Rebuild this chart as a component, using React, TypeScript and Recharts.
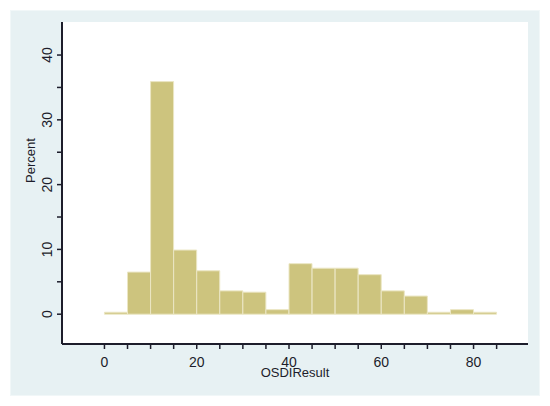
import { BarChart, Bar, XAxis, YAxis, CartesianGrid } from "recharts";

// histogram bins of width 5, starting at 0
const binStarts = [0, 5, 10, 15, 20, 25, 30, 35, 40, 45, 50, 55, 60, 65, 70, 75, 80];
const percents = [0.3, 6.5, 35.9, 9.9, 6.7, 3.6, 3.4, 0.7, 7.8, 7.1, 7.1, 6.1, 3.6, 2.8, 0.3, 0.7, 0.3];
const xTicks = [0, 5, 10, 15, 20, 25, 30, 35, 40, 45, 50, 55, 60, 65, 70, 75, 80, 85];
const xLabels = [0, 20, 40, 60, 80];
const yTicks = [0, 5, 10, 15, 20, 25, 30, 35, 40];
const yLabels = [0, 10, 20, 30, 40];

const data = binStarts.map((b, i) => ({ mid: b + 2.5, pct: percents[i] }));

const ink = "#1d1d2b";
const font = "Arial, 'Liberation Sans', sans-serif";

function XTick({ x, payload }: any) {
  const v = payload.value;
  return (
    <g>
      <line x1={x} x2={x} y1={344} y2={349} stroke={ink} strokeWidth={1.5} />
      {xLabels.includes(v) && (
        <text x={x} y={367} textAnchor="middle" fontSize={14} fill={ink} fontFamily={font}>
          {v}
        </text>
      )}
    </g>
  );
}

function YTick({ y, payload }: any) {
  const v = payload.value;
  return (
    <g>
      <line x1={57} x2={62} y1={y} y2={y} stroke={ink} strokeWidth={1.5} />
      {yLabels.includes(v) && (
        <text
          x={47}
          y={y}
          transform={`rotate(-90, 47, ${y})`}
          textAnchor="middle"
          dominantBaseline="central"
          fontSize={14}
          fill={ink}
          fontFamily={font}
        >
          {v}
        </text>
      )}
    </g>
  );
}

export default function App() {
  return (
    <div style={{ position: "absolute", left: 0, top: 0, width: 550, height: 406, background: "#fff" }}>
      <div
        style={{
          position: "absolute",
          left: 10,
          top: 10,
          width: 528,
          height: 384,
          background: "#e7f1f3",
          border: "1px solid #f1f7f8",
        }}
      />
      <div style={{ position: "absolute", left: 0, top: 0 }}>
        <BarChart
          width={550}
          height={406}
          data={data}
          margin={{ top: 22, right: 22, bottom: 22, left: 12 }}
          barCategoryGap={0}
        >
          <CartesianGrid fill="#ffffff" horizontal={false} vertical={false} />
          <XAxis
            dataKey="mid"
            type="number"
            domain={[-9.2, 91.8]}
            ticks={xTicks}
            interval={0}
            height={40}
            axisLine={{ stroke: ink, strokeWidth: 2 }}
            tickLine={false}
            tick={<XTick />}
            label={{ value: "OSDIResult", position: "insideBottom", offset: 7, fill: ink, fontSize: 13, fontFamily: font }}
          />
          <YAxis
            type="number"
            domain={[-4.6, 45.1]}
            ticks={yTicks}
            interval={0}
            width={50}
            axisLine={{ stroke: ink, strokeWidth: 2 }}
            tickLine={false}
            tick={<YTick />}
            label={{ value: "Percent", angle: -90, position: "insideLeft", offset: 18, fill: ink, fontSize: 13, fontFamily: font }}
          />
          <Bar dataKey="pct" fill="#cdc47e" stroke="#ebe6c4" strokeWidth={1} isAnimationActive={false} />
        </BarChart>
      </div>
    </div>
  );
}
